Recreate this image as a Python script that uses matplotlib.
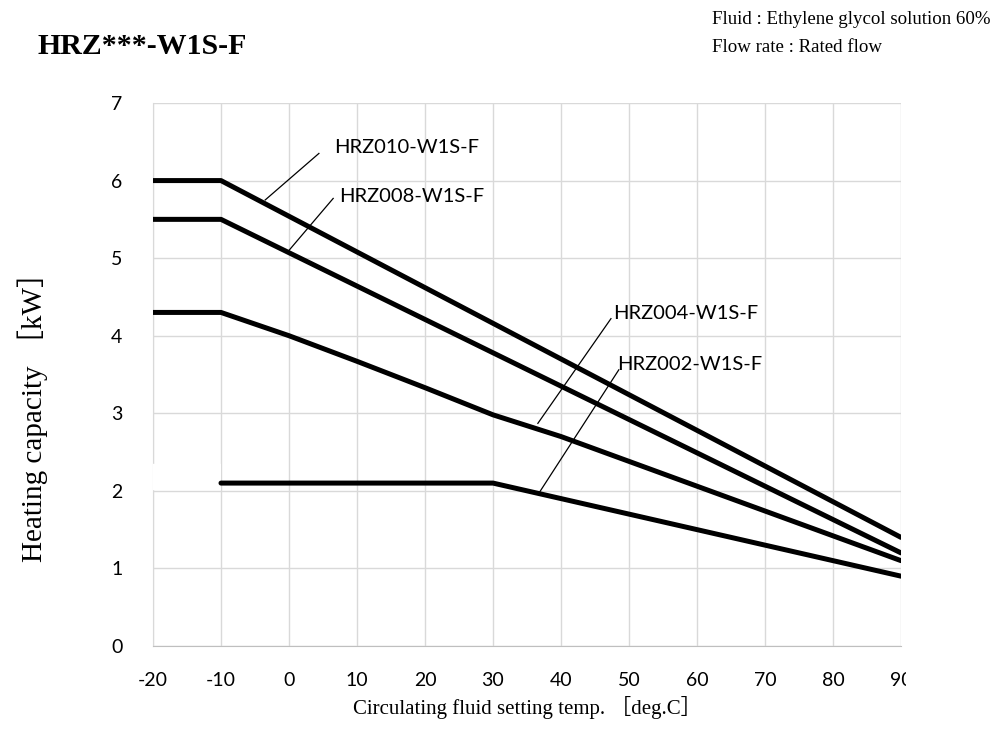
import matplotlib
matplotlib.use('Agg')
import matplotlib.pyplot as plt
from matplotlib.transforms import Bbox, TransformedBbox

# data
temp_010 = [-20, -10, 90]
cap_010 = [6.0, 6.0, 1.4]

temp_008 = [-20, -10, 90]
cap_008 = [5.5, 5.5, 1.2]

temp_004 = [-20, -10, 0, 10, 20, 30, 35, 40, 50, 60, 70, 80, 90]
cap_004 = [4.3, 4.3, 4.0, 3.67, 3.33, 2.98, 2.84, 2.7, 2.38, 2.06, 1.74, 1.42, 1.1]

temp_002 = [-10, 30, 40, 50, 60, 70, 80, 90]
cap_002 = [2.1, 2.1, 1.9, 1.7, 1.5, 1.3, 1.1, 0.9]

# white segment hiding the axis line left of HRZ002 (as in the original)
mask_temp = [-20, -10]
mask_cap = [2.18, 2.18]

labels = ['HRZ010-W1S-F', 'HRZ008-W1S-F', 'HRZ004-W1S-F', 'HRZ002-W1S-F']
# leader line: (start on curve) -> (end near text), text anchor
leader_start = [(-3.5, 5.75), (0.0, 5.10), (36.6, 2.87), (36.9, 1.99)]
leader_end = [(4.4, 6.35), (6.5, 5.77), (47.35, 4.22), (48.5, 3.56)]
text_pos = [(6.6, 6.42), (7.4, 5.80), (47.6, 4.29), (48.3, 3.63)]

xticks = list(range(-20, 100, 10))
yticks = list(range(0, 8))

serif = ['Liberation Serif', 'Noto Sans CJK JP']
sans = 'Lato'
plt.rcParams['axes.unicode_minus'] = False

fig = plt.figure(figsize=(9.96, 7.29), dpi=100)
ax = fig.add_axes([0.1536, 0.1139, 0.7510, 0.7448])

ax.plot(mask_temp, mask_cap, color='white', lw=19, solid_capstyle='butt', zorder=3, clip_on=False)
for tx, cy in [(temp_010, cap_010), (temp_008, cap_008), (temp_004, cap_004), (temp_002, cap_002)]:
    ax.plot(tx, cy, color='black', lw=3.6, solid_capstyle='round', solid_joinstyle='round', zorder=4)

for lab, s, e, t in zip(labels, leader_start, leader_end, text_pos):
    ax.plot([s[0], e[0]], [s[1], e[1]], color='black', lw=0.9, zorder=5)
    ax.text(t[0], t[1], lab, fontsize=14.5, family=sans, ha='left', va='center', zorder=5)

ax.set_xlim(-20, 90)
ax.set_ylim(0, 7)
ax.set_xticks(xticks)
ax.set_yticks(yticks)
ax.grid(True, color='#d9d9d9', lw=1.0)
ax.set_axisbelow(True)
for sp in ['top', 'right']:
    ax.spines[sp].set_visible(False)
ax.spines['left'].set_color('#d9d9d9')
ax.spines['bottom'].set_color('#bfbfbf')
ax.spines['left'].set_zorder(1)
ax.tick_params(length=0, labelsize=14)
ax.tick_params(axis='x', pad=19)
ax.tick_params(axis='y', pad=22)
for lbl in ax.get_xticklabels() + ax.get_yticklabels():
    lbl.set_family(sans)

# the last x label is cut off by the chart area in the original
clip = TransformedBbox(Bbox([[0, 0], [906 / 996, 1]]), fig.transFigure)
for tk in ax.xaxis.get_major_ticks():
    tk.label1.set_clip_box(clip)
    tk.label1.set_clip_on(True)

ax.set_xlabel('Circulating fluid setting temp. ［deg.C］', family=serif, fontsize=15, labelpad=5)
ax.set_ylabel('Heating capacity ［kW］', family=serif, fontsize=21)
ax.yaxis.set_label_coords(-0.140, 0.435)

fig.text(37 / 996, 1 - 47 / 729, 'HRZ***-W1S-F', family=serif, fontsize=21.5, fontweight='bold', va='center', ha='left')
fig.text(712 / 996, 1 - 20 / 729, 'Fluid : Ethylene glycol solution 60%', family=serif, fontsize=13.6, va='center', ha='left')
fig.text(712 / 996, 1 - 47 / 729, 'Flow rate : Rated flow', family=serif, fontsize=13.6, va='center', ha='left')

fig.savefig('out.png', dpi=100)
